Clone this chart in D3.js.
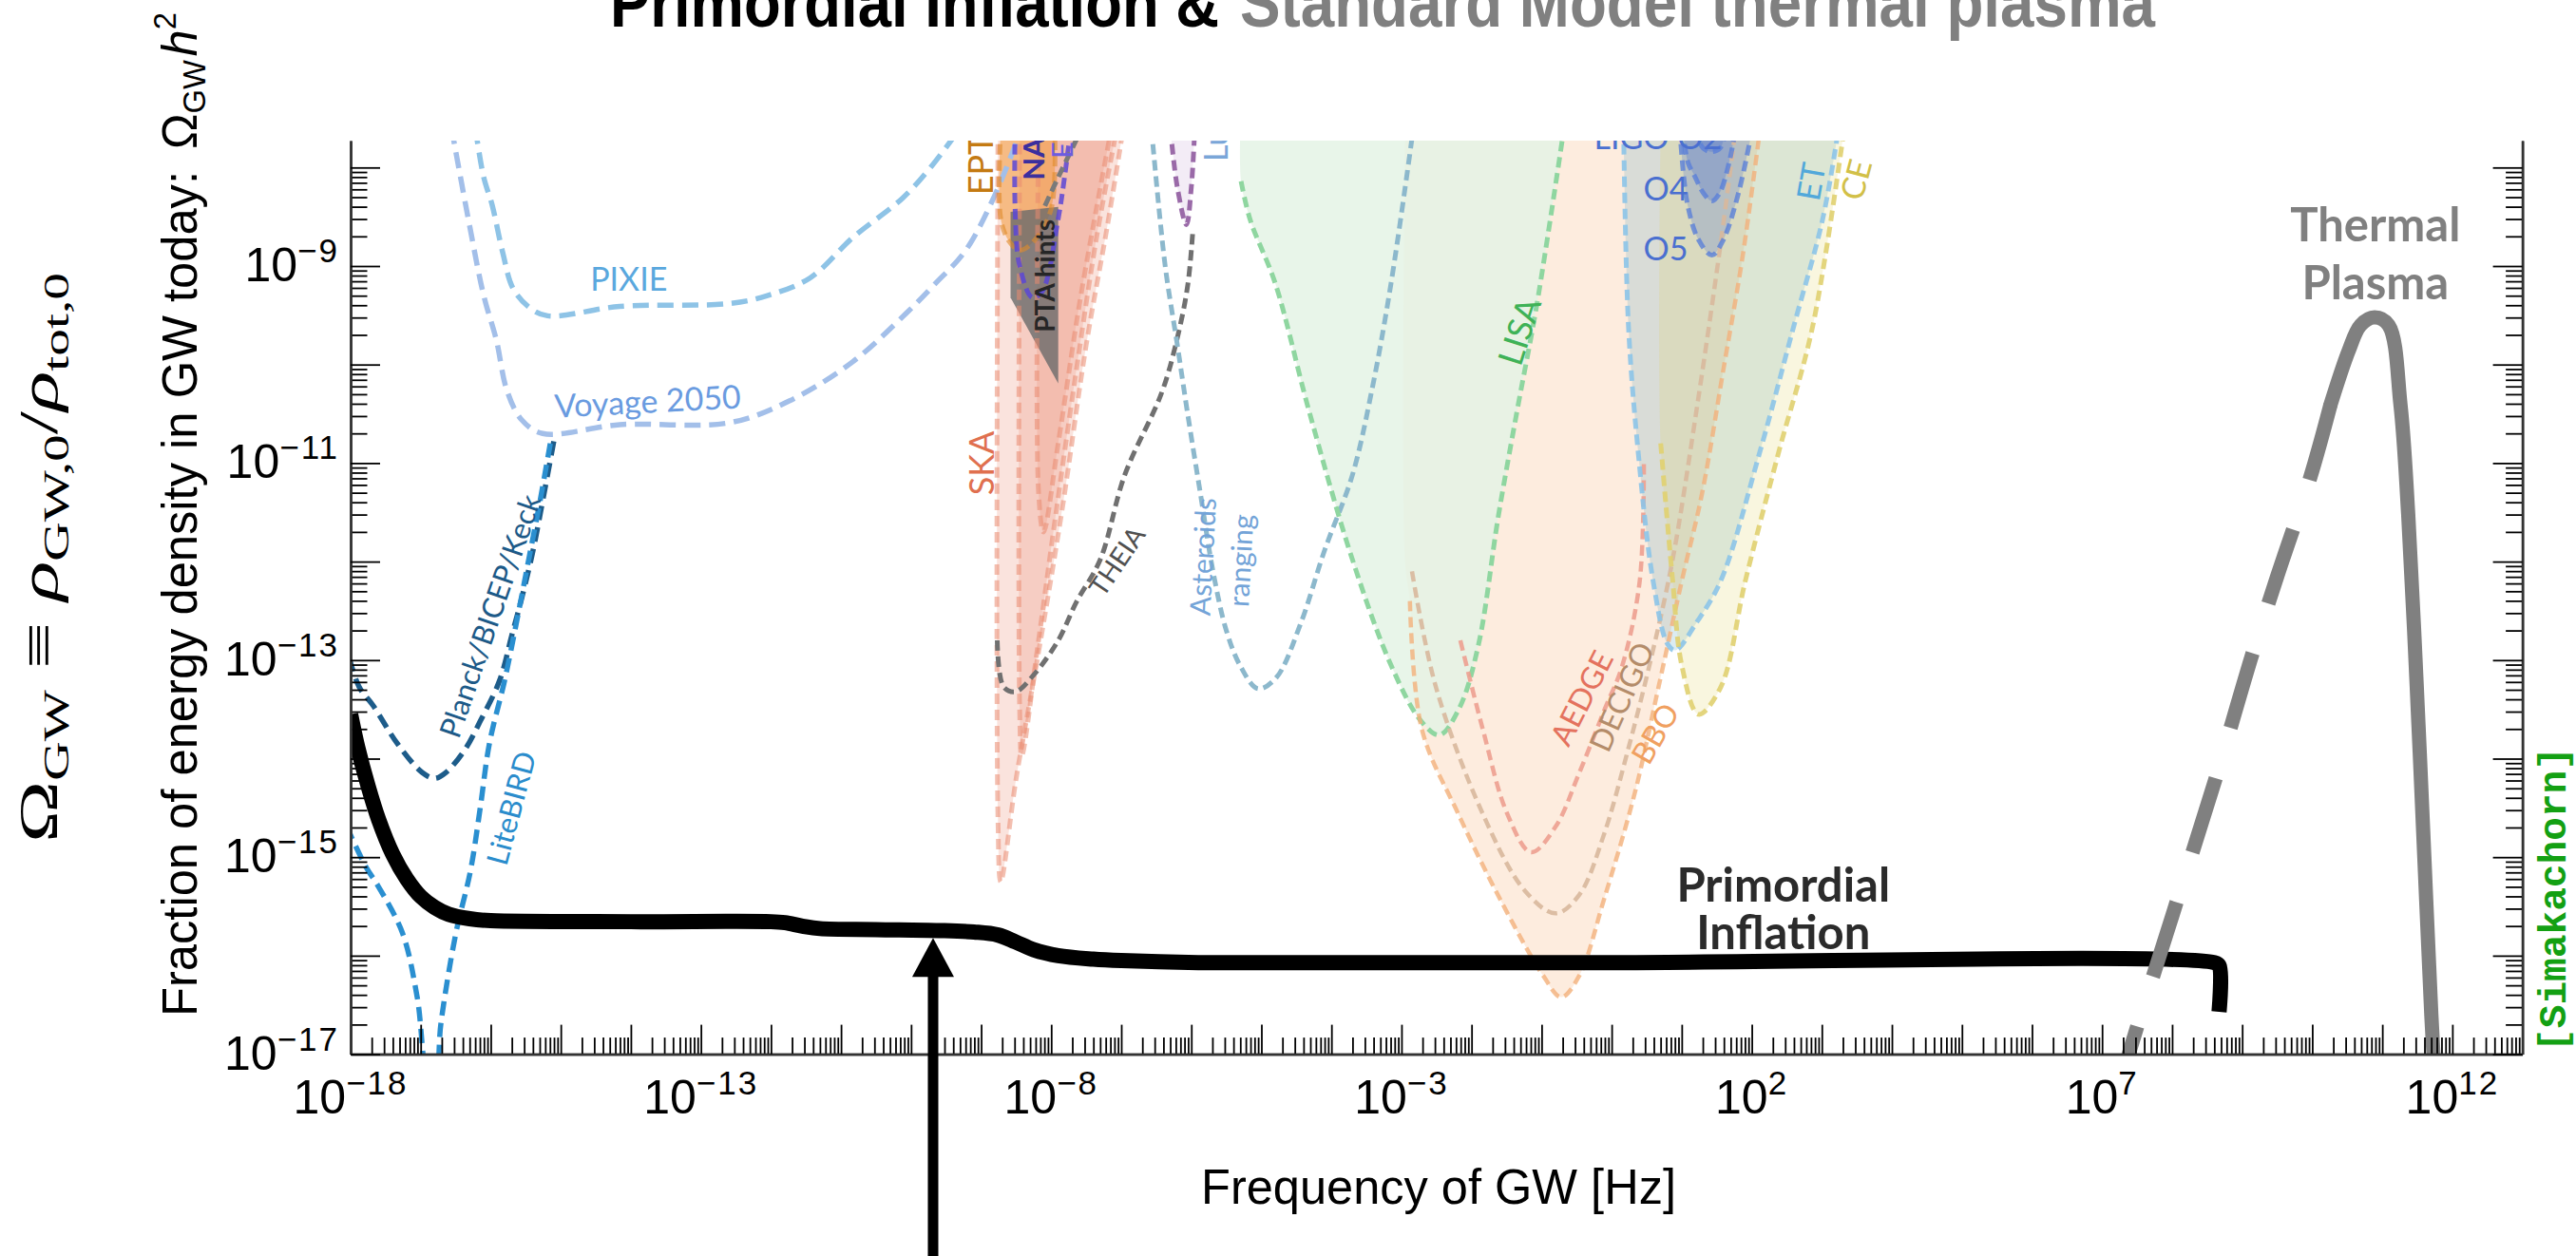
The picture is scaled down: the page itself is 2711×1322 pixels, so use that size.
<!DOCTYPE html>
<html>
<head>
<meta charset="utf-8">
<title>Primordial Inflation &amp; Standard Model thermal plasma</title>
<script src="https://cdn.jsdelivr.net/npm/d3@7/dist/d3.min.js"></script>
<style>
  html, body { margin: 0; padding: 0; background: #fff; }
  svg { display: block; }
  .lbl { font-family: Lato, "Noto Sans", sans-serif; }
  .axis-txt { font-family: "Liberation Sans", Arial, sans-serif; }
</style>
</head>
<body>
<svg id="chart" width="2711" height="1322"></svg>
<script>
// ---------------------------------------------------------------------------
// Data: every point is [log10(f / Hz), log10(Omega_GW h^2)]
// ---------------------------------------------------------------------------
const primordial = [[-18,-13.55],[-17.9,-13.88],[-17.75,-14.28],[-17.6,-14.62],[-17.4,-14.97],[-17.2,-15.22],
  [-17.0,-15.4],[-16.8,-15.51],[-16.6,-15.58],[-16.3,-15.625],[-16,-15.645],[-14,-15.655],[-12,-15.655],
  [-11.8,-15.665],[-11.55,-15.7],[-11.3,-15.725],[-10.5,-15.735],[-9.6,-15.745],[-9.1,-15.76],[-8.76,-15.79],
  [-8.51,-15.86],[-8.25,-15.94],[-7.9,-16.0],[-7.4,-16.035],[-7.0,-16.05],[-5.9,-16.07],[0,-16.07],
  [8.6,-16.07],[8.67,-16.1],[8.67,-16.57]];

const thermalRise = [[10.26,-10.41],[9.97,-11.15],[9.5,-12.15],[9.14,-12.95],[8.6,-14.25],[8.0,-15.6],[7.38,-17.0],[7.2,-17.45]];
const thermalPeak = [[10.26,-10.41],[10.52,-9.86],[10.69,-9.6],[10.89,-9.52],[11.09,-9.6],[11.26,-10.41],
  [11.37,-11.52],[11.49,-13.24],[11.6,-15.0],[11.7,-16.6],[11.77,-17.5]];

const pixie = [[-16.22,-7.6],[-16.1,-8.1],[-15.98,-8.38],[-15.83,-8.86],[-15.68,-9.23],[-15.45,-9.42],[-15.19,-9.505],
  [-14.16,-9.41],[-12.59,-9.38],[-12.05,-9.3],[-11.44,-9.12],[-10.83,-8.71],[-10.12,-8.31],[-9.7,-7.98],[-9.3,-7.6]];
const voyage = [[-16.56,-7.6],[-16.31,-8.56],[-16.1,-9.3],[-15.92,-9.75],[-15.77,-10.26],[-15.56,-10.56],[-15.26,-10.7],
  [-14.16,-10.61],[-12.59,-10.59],[-11.74,-10.37],[-10.83,-9.97],[-10.07,-9.48],[-9.67,-9.19],[-9.22,-8.84],[-8.81,-8.29],[-8.42,-7.6]];
const planck = [[-15.1,-10.78],[-15.25,-11.35],[-15.4,-11.9],[-15.55,-12.35],[-15.7,-12.75],[-15.87,-13.2],[-16.15,-13.62],
  [-16.37,-13.91],[-16.64,-14.14],[-16.8,-14.2],[-16.98,-14.14],[-17.33,-13.85],[-17.68,-13.46],[-17.88,-13.27],[-18.05,-12.9]];
const litebird = [[-15.15,-10.8],[-15.3,-11.4],[-15.45,-11.95],[-15.6,-12.5],[-15.8,-13.2],[-16.02,-13.85],[-16.15,-14.5],
  [-16.29,-15.14],[-16.5,-15.78],[-16.71,-16.68],[-16.8,-17.3],[-16.88,-17.3],[-17.05,-16.42],[-17.26,-15.77],
  [-17.61,-15.29],[-17.78,-15.1],[-18.05,-14.7]];

const skaOuter = [[-8.76,-7.6],[-8.76,-14.6],[-8.72,-15.25],[-8.5,-14.2],[-8.2,-13.0],[-7.85,-11.5],[-7.5,-9.8],[-7.2,-8.6],[-6.97,-7.6]];
const skaMid   = [[-8.45,-7.6],[-8.45,-13.5],[-8.42,-13.97],[-8.2,-12.9],[-7.95,-11.6],[-7.65,-10.1],[-7.35,-8.7],[-7.06,-7.6]];
const skaInner = [[-8.18,-7.6],[-8.18,-11.3],[-8.11,-11.7],[-7.9,-10.8],[-7.6,-9.4],[-7.35,-8.4],[-7.14,-7.6]];
const epta     = [[-8.72,-7.6],[-8.72,-8.52],[-8.6,-8.75],[-8.45,-8.84],[-8.25,-8.75],[-8.0,-8.42],[-7.95,-7.6]];
const nanograv = [[-8.515,-7.6],[-8.515,-8.42],[-8.45,-9.0],[-8.27,-9.32],[-8.13,-9.26],[-7.9,-8.52],[-7.81,-8.1],[-7.72,-7.6]];
const ptaGray  = [[-8.09,-8.39],[-7.9,-8.1],[-7.56,-7.6]];
const ptaHints = [[-8.58,-8.45],[-7.9,-8.4],[-7.9,-10.19],[-8.58,-9.32]];
const theia    = [[-8.77,-12.8],[-8.68,-13.27],[-8.51,-13.32],[-8.25,-13.15],[-7.9,-12.8],[-7.64,-12.41],[-7.3,-11.98],
  [-6.95,-11.12],[-6.42,-10.28],[-6.19,-9.7],[-6.05,-9.19],[-5.98,-8.66]];
const lunar    = [[-6.3,-7.6],[-6.2,-8.2],[-6.07,-8.58],[-6.0,-8.2],[-5.95,-7.6]];
const asteroids = [[-6.57,-7.6],[-6.45,-8.5],[-6.36,-9.07],[-6.2,-9.8],[-6.05,-10.51],[-5.87,-11.31],[-5.69,-12.1],
  [-5.5,-12.7],[-5.3,-13.06],[-5.05,-13.29],[-4.79,-13.18],[-4.44,-12.63],[-4.1,-11.89],[-3.7,-11.12],
  [-3.42,-10.25],[-3.15,-9.18],[-2.83,-7.6]];
const lisa = [[-5.3,-7.6],[-5.29,-8.14],[-5.16,-8.53],[-4.8,-9.18],[-4.32,-10.47],[-3.7,-11.98],[-3.15,-13.05],
  [-2.73,-13.61],[-2.46,-13.76],[-2.17,-13.48],[-1.9,-12.84],[-1.62,-11.55],[-1.35,-10.47],[-1.07,-9.4],[-0.68,-7.6]];
const bbo = [[-2.95,-7.6],[-2.95,-12.0],[-2.88,-12.4],[-2.71,-13.7],[-2.19,-14.56],[-1.59,-15.43],[-0.98,-16.2],
  [-0.72,-16.42],[-0.46,-16.2],[-0.11,-15.43],[0.33,-14.35],[0.67,-13.27],[1.0,-12.2],[1.29,-11.31],[1.6,-10.03],
  [1.87,-8.9],[2.12,-7.6]];
const decigo = [[-2.85,-12.1],[-2.51,-13.27],[-1.84,-14.56],[-1.24,-15.34],[-0.8,-15.57],[-0.46,-15.38],[-0.11,-14.77],
  [0.23,-13.92],[0.58,-12.93],[0.87,-11.98],[1.21,-10.47],[1.56,-8.75],[1.77,-7.6]];
const aedge = [[-2.16,-12.8],[-1.84,-13.7],[-1.49,-14.56],[-1.15,-14.95],[-0.8,-14.69],[-0.46,-14.14],[-0.1,-13.5],
  [0.15,-13.06],[0.4,-12.2],[0.46,-10.96]];
const et = [[0.17,-7.6],[0.24,-9.61],[0.38,-10.9],[0.59,-12.19],[0.8,-12.84],[0.91,-12.9],[1.21,-12.62],[1.56,-12.19],
  [2.11,-10.9],[2.6,-9.61],[3.01,-8.53],[3.24,-7.6]];
const ce = [[0.7,-7.6],[0.7,-10.8],[0.87,-12.19],[1.0,-13.05],[1.24,-13.55],[1.56,-13.27],[1.91,-12.19],[2.38,-10.9],
  [2.87,-9.61],[3.32,-7.6]];
const ligoO2 = [[1.2,-7.6],[1.3,-7.8],[1.43,-7.84],[1.55,-7.8],[1.64,-7.6]];
const ligoO4 = [[1.01,-7.6],[1.09,-7.95],[1.18,-8.08],[1.31,-8.26],[1.43,-8.34],[1.54,-8.26],[1.68,-7.94],[1.77,-7.6]];
const ligoO5 = [[0.97,-7.6],[1.03,-8.1],[1.09,-8.4],[1.23,-8.72],[1.43,-8.89],[1.59,-8.74],[1.81,-8.26],[2.01,-7.6]];

// arrow marking a frequency on the inflationary plateau: [log10 f, log10 Omega at the tip]
const arrowAt = [-9.686, -15.82];

// axis ticks (exponents)
const xMajorExp = d3.range(-18, 14);
const xLabelExp = [-18, -13, -8, -3, 2, 7, 12];
const yMajorExp = d3.range(-17, -7);
const yLabelExp = [-17, -15, -13, -11, -9];

// ---------------------------------------------------------------------------
// Scales and helpers
// ---------------------------------------------------------------------------
const svg = d3.select("#chart");
const X0 = 369, X1 = 2654.6, Y0 = 1109.6, Y1 = 148;
const x = d3.scaleLog().domain([1e-18, 1e13]).range([X0, X1]);
const y = d3.scaleLog().domain([1e-17, Math.pow(10, -7.727)]).range([Y0, Y1]);
const px = d => x(Math.pow(10, d[0]));
const py = d => y(Math.pow(10, d[1]));
const smooth = d3.line().x(px).y(py).curve(d3.curveCatmullRom.alpha(0.5));
const straight = d3.line().x(px).y(py);

svg.append("rect").attr("width", 2711).attr("height", 1322).attr("fill", "#fff");
svg.append("defs").append("clipPath").attr("id", "plotClip").append("rect")
  .attr("x", X0).attr("y", Y1).attr("width", X1 - X0).attr("height", Y0 - Y1);
const plot = svg.append("g").attr("clip-path", "url(#plotClip)");

// ---------------------------------------------------------------------------
// Shaded sensitivity regions (drawn back to front)
// ---------------------------------------------------------------------------
const fills = [
  { d: bbo,      color: "#f5a05a", op: 0.20 },
  { d: lisa,     color: "#e4f3e5", op: 0.85 },
  { d: et,       color: "#4aa0c0", op: 0.20 },
  { d: ce,       color: "#e0d060", op: 0.20 },
  { d: ligoO5,   color: "#4a6fd0", op: 0.25 },
  { d: ligoO4,   color: "#4a6fd0", op: 0.30 },
  { d: ligoO2,   color: "#4a6fd0", op: 0.30 },
  { d: skaOuter, color: "#e98a70", op: 0.24 },
  { d: skaMid,   color: "#e98a70", op: 0.24 },
  { d: skaInner, color: "#e98a70", op: 0.24 },
  { d: epta,     color: "#f29a3a", op: 0.55 },
  { d: lunar,    color: "#b080c0", op: 0.15 }
];
fills.forEach(f => plot.append("path").attr("d", smooth(f.d) + "Z")
  .attr("fill", f.color).attr("fill-opacity", f.op).attr("stroke", "none"));

plot.append("path").attr("d", straight(ptaHints) + "Z")
  .attr("fill", "#6a6a6a").attr("fill-opacity", 0.8);

// ---------------------------------------------------------------------------
// Dashed sensitivity curves
// ---------------------------------------------------------------------------
const dashed = [
  { d: pixie,          color: "#8ec3e6", w: 5.5, dash: "17,9" },
  { d: voyage,         color: "#a3bfe9", w: 5.5, dash: "17,9" },
  { d: planck,         color: "#1d5c8a", w: 5.5, dash: "15,8" },
  { d: litebird,       color: "#2a8fd0", w: 5.5, dash: "15,8" },
  { d: skaOuter,       color: "#e98a70", w: 5,   dash: "11,6", op: 0.55 },
  { d: skaMid,         color: "#e98a70", w: 5,   dash: "11,6", op: 0.55 },
  { d: skaInner,       color: "#e98a70", w: 5,   dash: "11,6", op: 0.55 },
  { d: epta,           color: "#e08a2a", w: 5,   dash: "11,6", op: 0.6 },
  { d: nanograv,       color: "#5b47d6", w: 5,   dash: "11,6", op: 0.85 },
  { d: ptaGray,        color: "#7a7a7a", w: 5,   dash: "11,6" },
  { d: theia,          color: "#707070", w: 5,   dash: "11,6" },
  { d: lunar,          color: "#9a6aa8", w: 5,   dash: "11,6" },
  { d: asteroids,      color: "#8cb8cc", w: 5,   dash: "11,6" },
  { d: lisa.slice(1),  color: "#8fd6a0", w: 5,   dash: "11,6" },
  { d: bbo.slice(2),   color: "#f2b07a", w: 4.5, dash: "11,6", op: 0.8 },
  { d: decigo,         color: "#d8b89c", w: 4.5, dash: "11,6", op: 0.9 },
  { d: aedge,          color: "#eda090", w: 4.5, dash: "11,6", op: 0.9 },
  { d: et,             color: "#8cc4e8", w: 5,   dash: "11,6", op: 0.9 },
  { d: ce.slice(1),    color: "#e0d070", w: 5,   dash: "11,6", op: 0.9 },
  { d: ligoO5,         color: "#5a7fd8", w: 5,   dash: "11,6", op: 0.8 },
  { d: ligoO4,         color: "#5a7fd8", w: 5,   dash: "11,6", op: 0.8 },
  { d: ligoO2,         color: "#5a7fd8", w: 5,   dash: "11,6", op: 0.8 }
];
dashed.forEach(c => plot.append("path").attr("d", smooth(c.d))
  .attr("fill", "none").attr("stroke", c.color).attr("stroke-width", c.w)
  .attr("stroke-opacity", c.op || 1).attr("stroke-dasharray", c.dash));

// ---------------------------------------------------------------------------
// Experiment labels
// ---------------------------------------------------------------------------
const labels = [
  { t: "PIXIE",             at: [-14.03, -9.12],  rot: 0,   size: 34, color: "#5aa8de" },
  { t: "Voyage 2050",       at: [-13.76, -10.36], rot: -3,  size: 34, color: "#6a9be0" },
  { t: "Planck/BICEP/Keck", at: [-16.02, -12.55], rot: -71, size: 31, color: "#1d5a88" },
  { t: "LiteBIRD",          at: [-15.72, -14.5],  rot: -75, size: 31, color: "#2a8ccc" },
  { t: "SKA",               at: [-9.01, -11.0],   rot: -90, size: 36, color: "#e0704f" },
  { t: "EPTA",              at: [-9.015, -8.28],  rot: -90, size: 36, color: "#c47a12", anchor: "start" },
  { t: "NANOGrav",          at: [-8.26, -8.13],   rot: -90, size: 31, color: "#3b2f9e", anchor: "start", weight: 700 },
  { t: "EPTA",              at: [-7.85, -7.91],   rot: -90, size: 31, color: "#6c5ce0", anchor: "start" },
  { t: "PTA hints",         at: [-8.1, -9.1],     rot: -90, size: 28, color: "#262626", weight: 700 },
  { t: "THEIA",             at: [-7.07, -11.99],  rot: -56, size: 28, color: "#505050" },
  { t: "Lunar ranging",     at: [-5.66, -7.94],   rot: -90, size: 34, color: "#7aa6d8", anchor: "start" },
  { t: "Asteroids",         at: [-5.85, -11.95],  rot: -87, size: 30, color: "#74a4d8" },
  { t: "ranging",           at: [-5.31, -11.99],  rot: -87, size: 30, color: "#74a4d8" },
  { t: "LISA",              at: [-1.33, -9.66],   rot: -72, size: 36, color: "#3fb257" },
  { t: "AEDGE",             at: [-0.44, -13.38],  rot: -63, size: 32, color: "#e4725e" },
  { t: "DECIGO",            at: [0.13, -13.37],   rot: -66, size: 32, color: "#b48c6a" },
  { t: "BBO",               at: [0.61, -13.74],   rot: -60, size: 32, color: "#f0a060" },
  { t: "ET",                at: [2.83, -8.14],    rot: -80, size: 34, color: "#52a8da" },
  { t: "CE",                at: [3.47, -8.12],    rot: -75, size: 34, color: "#d2c048" },
  { t: "O4",                at: [0.77, -8.2],     rot: 0,   size: 34, color: "#4a6fd0" },
  { t: "O5",                at: [0.77, -8.81],    rot: 0,   size: 34, color: "#4a6fd0" },
  { t: "LIGO O2",           at: [0.66, -7.81],    rot: 0,   size: 34, color: "#4a6fd0", base: "alphabetic" }
];
labels.forEach(l => plot.append("text").attr("class", "lbl")
  .attr("transform", `translate(${px(l.at)},${py(l.at)}) rotate(${l.rot})`)
  .attr("text-anchor", l.anchor || "middle")
  .attr("dominant-baseline", l.base || "central")
  .attr("font-size", l.size).attr("font-weight", l.weight || 400)
  .attr("fill", l.color).text(l.t));

// ---------------------------------------------------------------------------
// Spectra: primordial inflation (black) and SM thermal plasma (grey)
// ---------------------------------------------------------------------------
plot.append("path").attr("d", smooth(primordial)).attr("fill", "none")
  .attr("stroke", "#000").attr("stroke-width", 16).attr("stroke-linejoin", "round");

plot.append("path").attr("d", smooth(thermalRise)).attr("fill", "none")
  .attr("stroke", "#808080").attr("stroke-width", 15).attr("stroke-dasharray", "82,55");
plot.append("path").attr("d", smooth(thermalPeak)).attr("fill", "none")
  .attr("stroke", "#808080").attr("stroke-width", 15).attr("stroke-linecap", "round");

const bold = (txt, at, color) => plot.append("text").attr("class", "lbl")
  .attr("x", px(at)).attr("y", py(at)).attr("text-anchor", "middle")
  .attr("font-size", 49).attr("font-weight", 700).attr("fill", color).text(txt);
bold("Primordial", [2.45, -15.45], "#2b2b2b");
bold("Inflation",  [2.45, -15.93], "#2b2b2b");
bold("Thermal",    [10.9, -8.75], "#808080");
bold("Plasma",     [10.9, -9.34], "#808080");

// ---------------------------------------------------------------------------
// Axes (log-log, ticks pointing inwards, no top spine)
// ---------------------------------------------------------------------------
const xMajor = xMajorExp.map(e => Math.pow(10, e));
const xMinor = [];
xMajorExp.slice(0, -1).forEach(e => { for (let k = 2; k <= 9; k++) xMinor.push(k * Math.pow(10, e)); });
const yTop = y.domain()[1];
const yMajor = yMajorExp.map(e => Math.pow(10, e));
const yMinor = [];
yMajorExp.forEach(e => { for (let k = 2; k <= 9; k++) { const v = k * Math.pow(10, e); if (v < yTop) yMinor.push(v); } });

function styleAxis(g) {
  g.selectAll(".tick line").attr("stroke", "#000").attr("stroke-width", 1.8);
  g.select(".domain").attr("stroke", "#333").attr("stroke-width", 2.5);
  g.selectAll("text").remove();
}
const gx = svg.append("g").attr("transform", `translate(0,${Y0})`);
gx.append("g").call(d3.axisBottom(x).tickValues(xMinor).tickSize(-17.5).tickSizeOuter(0)).call(styleAxis);
gx.append("g").call(d3.axisBottom(x).tickValues(xMajor).tickSize(-31).tickSizeOuter(0)).call(styleAxis);

const gyl = svg.append("g").attr("transform", `translate(${X0},0)`);
gyl.append("g").call(d3.axisLeft(y).tickValues(yMinor).tickSize(-17.5).tickSizeOuter(0)).call(styleAxis);
gyl.append("g").call(d3.axisLeft(y).tickValues(yMajor).tickSize(-31).tickSizeOuter(0)).call(styleAxis);

const gyr = svg.append("g").attr("transform", `translate(${X1},0)`);
gyr.append("g").call(d3.axisRight(y).tickValues(yMinor).tickSize(-17.5).tickSizeOuter(0)).call(styleAxis);
gyr.append("g").call(d3.axisRight(y).tickValues(yMajor).tickSize(-31).tickSizeOuter(0)).call(styleAxis);

const expText = e => (e < 0 ? "\u2212" + (-e) : String(e));
xLabelExp.forEach(e => {
  const t = svg.append("text").attr("class", "axis-txt")
    .attr("x", x(Math.pow(10, e))).attr("y", Y0 + 62)
    .attr("text-anchor", "middle").attr("font-size", 50).attr("fill", "#000");
  t.append("tspan").text("10");
  t.append("tspan").attr("dy", -20).attr("font-size", 35).attr("letter-spacing", 2).text(expText(e));
});
yLabelExp.forEach(e => {
  const t = svg.append("text").attr("class", "axis-txt")
    .attr("x", X0 - 12).attr("y", y(Math.pow(10, e)) + 16)
    .attr("text-anchor", "end").attr("font-size", 50).attr("fill", "#000");
  t.append("tspan").text("10");
  t.append("tspan").attr("dy", -20).attr("font-size", 35).attr("letter-spacing", 2).text(expText(e));
});

// axis titles
svg.append("text").attr("class", "axis-txt").attr("x", 1264).attr("y", 1267)
  .attr("font-size", 52).attr("textLength", 500).attr("lengthAdjust", "spacingAndGlyphs")
  .text("Frequency of GW [Hz]");

svg.append("text").attr("class", "axis-txt").attr("transform", "translate(207,1070) rotate(-90)")
  .attr("font-size", 52).attr("textLength", 890).attr("lengthAdjust", "spacingAndGlyphs")
  .text("Fraction of energy density in GW today:");
const om = svg.append("text").attr("class", "axis-txt").attr("transform", "translate(207,157) rotate(-90)")
  .attr("font-size", 52).attr("textLength", 144).attr("lengthAdjust", "spacingAndGlyphs");
om.append("tspan").text("\u03A9");
om.append("tspan").attr("font-size", 34).attr("dy", 9).text("GW");
om.append("tspan").attr("font-style", "italic").attr("dy", -9).attr("dx", 4).text("h");
om.append("tspan").attr("font-size", 34).attr("dy", -22).text("2");

const def = svg.append("text").attr("transform", "translate(60,887) rotate(-90)")
  .attr("font-family", "'Liberation Serif', 'DejaVu Serif', serif")
  .attr("font-size", 58).attr("textLength", 600).attr("lengthAdjust", "spacingAndGlyphs");
def.append("tspan").text("\u03A9");
def.append("tspan").attr("font-size", 38).attr("dy", 12).text("GW");
def.append("tspan").attr("dy", -12).text(" \u2261 ");
def.append("tspan").attr("font-style", "italic").text("\u03C1");
def.append("tspan").attr("font-size", 38).attr("dy", 12).text("GW,0");
def.append("tspan").attr("dy", -12).text("/");
def.append("tspan").attr("font-style", "italic").text("\u03C1");
def.append("tspan").attr("font-size", 38).attr("dy", 12).text("tot,0");

// title
svg.append("text").attr("x", 642).attr("y", 28)
  .attr("font-family", "'Liberation Sans', Arial, sans-serif").attr("font-weight", 700)
  .attr("font-size", 72).attr("textLength", 641).attr("lengthAdjust", "spacingAndGlyphs")
  .attr("fill", "#000").text("Primordial Inflation &");
svg.append("text").attr("x", 1305).attr("y", 28)
  .attr("font-family", "'Liberation Sans', Arial, sans-serif").attr("font-weight", 700)
  .attr("font-size", 72).attr("textLength", 963).attr("lengthAdjust", "spacingAndGlyphs")
  .attr("fill", "#808080").text("Standard Model thermal plasma");

// credit
svg.append("text").attr("transform", "translate(2700,1107) rotate(-90)")
  .attr("font-family", "'Liberation Mono', 'DejaVu Sans Mono', monospace").attr("font-weight", 700)
  .attr("font-size", 40).attr("textLength", 321).attr("lengthAdjust", "spacingAndGlyphs")
  .attr("fill", "#13a013").text("[Simakachorn]");

// arrow
const ax = px(arrowAt), tipY = py(arrowAt);
svg.append("line").attr("x1", ax).attr("x2", ax).attr("y1", 1330).attr("y2", tipY + 38)
  .attr("stroke", "#000").attr("stroke-width", 11);
svg.append("path").attr("d", `M${ax},${tipY} L${ax - 22},${tipY + 41} L${ax + 22},${tipY + 41} Z`).attr("fill", "#000");
</script>
</body>
</html>
